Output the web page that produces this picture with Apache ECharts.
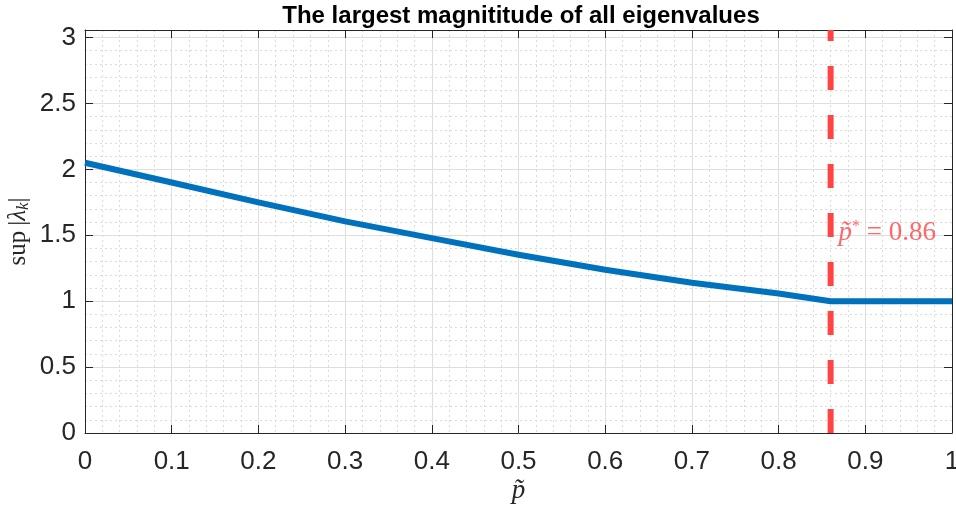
<!DOCTYPE html>
<html>
<head>
<meta charset="utf-8">
<script src="https://cdn.jsdelivr.net/npm/echarts@6/dist/echarts.min.js"></script>
<style>html,body{margin:0;padding:0;background:#fff;overflow:hidden;}#c{width:956px;height:510px;}</style>
</head>
<body>
<div id="c"></div>
<script>
const titleText = 'The largest magnititude of all eigenvalues';
const pValues = [0, 0.1, 0.2, 0.3, 0.4, 0.5, 0.6, 0.7, 0.8, 0.86, 0.9, 1.0];
const supLambda = [2.05, 1.90, 1.75, 1.605, 1.478, 1.352, 1.238, 1.14, 1.058, 1.0, 1.0, 1.0];
const pStar = 0.86;
const annotationY = 1.52;
const xTickLabels = ['0', '0.1', '0.2', '0.3', '0.4', '0.5', '0.6', '0.7', '0.8', '0.9', '1'];
const yTickLabels = ['0', '0.5', '1', '1.5', '2', '2.5', '3'];
const xMin = 0, xMax = 1, xStep = 0.1;
const yMin = 0, yMax = 3.057, yStep = 0.5;

const axisColor = '#262626';
const serif = '"Liberation Serif", "DejaVu Serif", serif';
const sans = '"Liberation Sans", Arial, sans-serif';

const chart = echarts.init(document.getElementById('c'), null, {renderer: 'canvas'});

function fmtX(v) {
  const i = Math.round((v - xMin) / xStep);
  return Math.abs(v - (xMin + i * xStep)) < 1e-6 && xTickLabels[i] !== undefined ? xTickLabels[i] : '';
}
function fmtY(v) {
  const i = Math.round((v - yMin) / yStep);
  return Math.abs(v - (yMin + i * yStep)) < 1e-6 && yTickLabels[i] !== undefined ? yTickLabels[i] : '';
}

const majorSplit = {show: true, lineStyle: {color: '#dedede', width: 1}};
const minorSplit = {show: true, lineStyle: {color: '#dadada', width: 1, type: [2, 3]}};

const option = {
  animation: false,
  backgroundColor: '#fff',
  title: {
    text: titleText,
    left: 516, top: -1, textAlign: 'center',
    textStyle: {fontFamily: sans, fontWeight: 'bold', fontSize: 24, color: '#000'}
  },
  grid: {left: 85, right: 4, top: 30, bottom: 77, containLabel: false, outerBoundsMode: 'none'},
  xAxis: [{
    type: 'value', min: xMin, max: xMax, interval: xStep, position: 'bottom',
    name: '{i|p\u0303}', nameLocation: 'middle', nameGap: 44, nameMoveOverlap: false,
    nameTextStyle: {rich: {i: {fontFamily: serif, fontStyle: 'italic', fontSize: 27, color: axisColor}}},
    axisLine: {show: true, onZero: false, lineStyle: {color: axisColor, width: 1}},
    axisTick: {show: true, inside: true, length: 8, lineStyle: {color: axisColor}},
    axisLabel: {show: true, margin: 16, fontFamily: sans, fontSize: 26, color: axisColor, formatter: fmtX},
    splitLine: majorSplit,
    minorTick: {show: false, splitNumber: 5},
    minorSplitLine: minorSplit
  }, {
    type: 'value', min: xMin, max: xMax, interval: xStep, position: 'top',
    axisLine: {show: true, onZero: false, lineStyle: {color: axisColor, width: 1}},
    axisTick: {show: true, inside: true, length: 8, lineStyle: {color: axisColor}},
    axisLabel: {show: false},
    splitLine: {show: false}
  }],
  yAxis: [{
    type: 'value', min: yMin, max: yMax, interval: yStep, position: 'left',
    name: '{n|sup\u2009|}{i|\u03bb}{s|k}{n||}', nameLocation: 'middle', nameGap: 53, nameRotate: 90,
    nameMoveOverlap: false,
    nameTextStyle: {rich: {
      n: {fontFamily: serif, fontSize: 25, color: axisColor},
      i: {fontFamily: serif, fontStyle: 'italic', fontSize: 25, color: axisColor},
      s: {fontFamily: serif, fontStyle: 'italic', fontSize: 17, color: axisColor, verticalAlign: 'bottom', padding: [10, 0, 0, 0]}
    }},
    axisLine: {show: true, onZero: false, lineStyle: {color: axisColor, width: 1}},
    axisTick: {show: true, inside: true, length: 8, lineStyle: {color: axisColor}},
    axisLabel: {show: true, margin: 9, fontFamily: sans, fontSize: 26, color: axisColor, formatter: fmtY},
    splitLine: majorSplit,
    minorTick: {show: false, splitNumber: 5},
    minorSplitLine: minorSplit
  }, {
    type: 'value', min: yMin, max: yMax, interval: yStep, position: 'right',
    axisLine: {show: true, onZero: false, lineStyle: {color: axisColor, width: 1}},
    axisTick: {show: true, inside: true, length: 8, lineStyle: {color: axisColor}},
    axisLabel: {show: false},
    splitLine: {show: false}
  }],
  series: [{
    type: 'line', name: 'threshold', xAxisIndex: 0, yAxisIndex: 0,
    data: [[pStar, yMin], [pStar, yMax]],
    showSymbol: false, symbol: 'none', silent: true, z: 3,
    lineStyle: {color: '#ff4444', width: 6, type: [24, 25], cap: 'butt'}
  }, {
    type: 'line', name: 'sup', xAxisIndex: 0, yAxisIndex: 0,
    data: pValues.map((p, i) => [p, supLambda[i]]),
    showSymbol: false, symbol: 'none', smooth: false, z: 4,
    lineStyle: {color: '#0072BD', width: 6, cap: 'butt', join: 'round'}
  }, {
    type: 'scatter', name: 'annotation', xAxisIndex: 0, yAxisIndex: 0,
    data: [[pStar, annotationY]], symbolSize: 0, silent: true, z: 5,
    label: {
      show: true, position: 'right', distance: 8,
      formatter: () => '{i|p\u0303}{s|*}{n| = ' + pStar.toFixed(2) + '}',
      rich: {
        i: {fontFamily: serif, fontStyle: 'italic', fontSize: 27, color: '#ff4444'},
        s: {fontFamily: serif, fontSize: 16, color: '#ff4444', verticalAlign: 'top', padding: [0, 0, 12, 0]},
        n: {fontFamily: serif, fontSize: 27, color: '#ff4444'}
      }
    }
  }]
};
chart.setOption(option);
</script>
</body>
</html>
